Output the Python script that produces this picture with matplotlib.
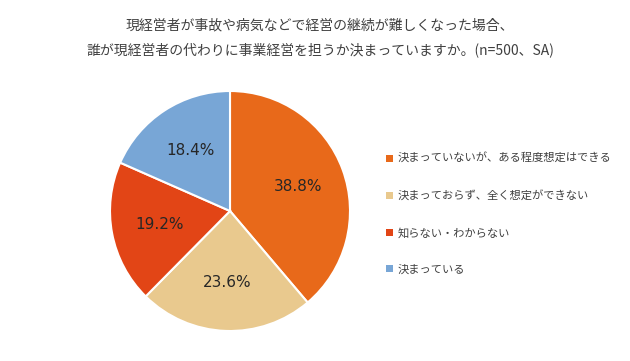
import matplotlib
matplotlib.use("Agg")
import matplotlib.pyplot as plt
from matplotlib.patches import Patch
import numpy as np

plt.rcParams['font.family'] = ['Noto Sans CJK JP', 'DejaVu Sans']

labels = ["決まっていないが、ある程度想定はできる", "決まっておらず、全く想定ができない", "知らない・わからない", "決まっている"]
values = [38.8, 23.6, 19.2, 18.4]
colors = ["#E8691A", "#E9C98E", "#E24516", "#78A6D6"]
title = "現経営者が事故や病気などで経営の継続が難しくなった場合、\n誰が現経営者の代わりに事業経営を担うか決まっていますか。(n=500、SA)"

fig = plt.figure(figsize=(6.3, 3.61), dpi=100)
fig.text(0.508, 1 - 38/361, title, ha='center', va='center', fontsize=10, color='#404040', linespacing=1.85)

ax = fig.add_axes([230/630 - 120/630, 1 - 211/361 - 120/361, 240/630, 240/361])
wedges, texts = ax.pie(values, colors=colors, startangle=90, counterclock=False,
                       wedgeprops=dict(edgecolor='white', linewidth=1.5))
for w, v in zip(wedges, values):
    ang = np.deg2rad((w.theta1 + w.theta2) / 2)
    ax.text(0.6 * np.cos(ang), 0.6 * np.sin(ang), f"{v:.1f}%", ha='center', va='center',
            fontsize=11, color='#262626', family='DejaVu Sans')
ax.set_xlim(-1, 1); ax.set_ylim(-1, 1)
ax.set_aspect('equal')

handles = [Patch(facecolor=c, edgecolor='none') for c in colors]
fig.legend(handles, labels, loc='center left', bbox_to_anchor=(376/630, 1 - 214/361), frameon=False,
           fontsize=8.1, handlelength=0.6, handleheight=0.6, handletextpad=0.45, labelspacing=2.33,
           labelcolor='#404040')

fig.savefig("out.png", dpi=100, facecolor='white')
